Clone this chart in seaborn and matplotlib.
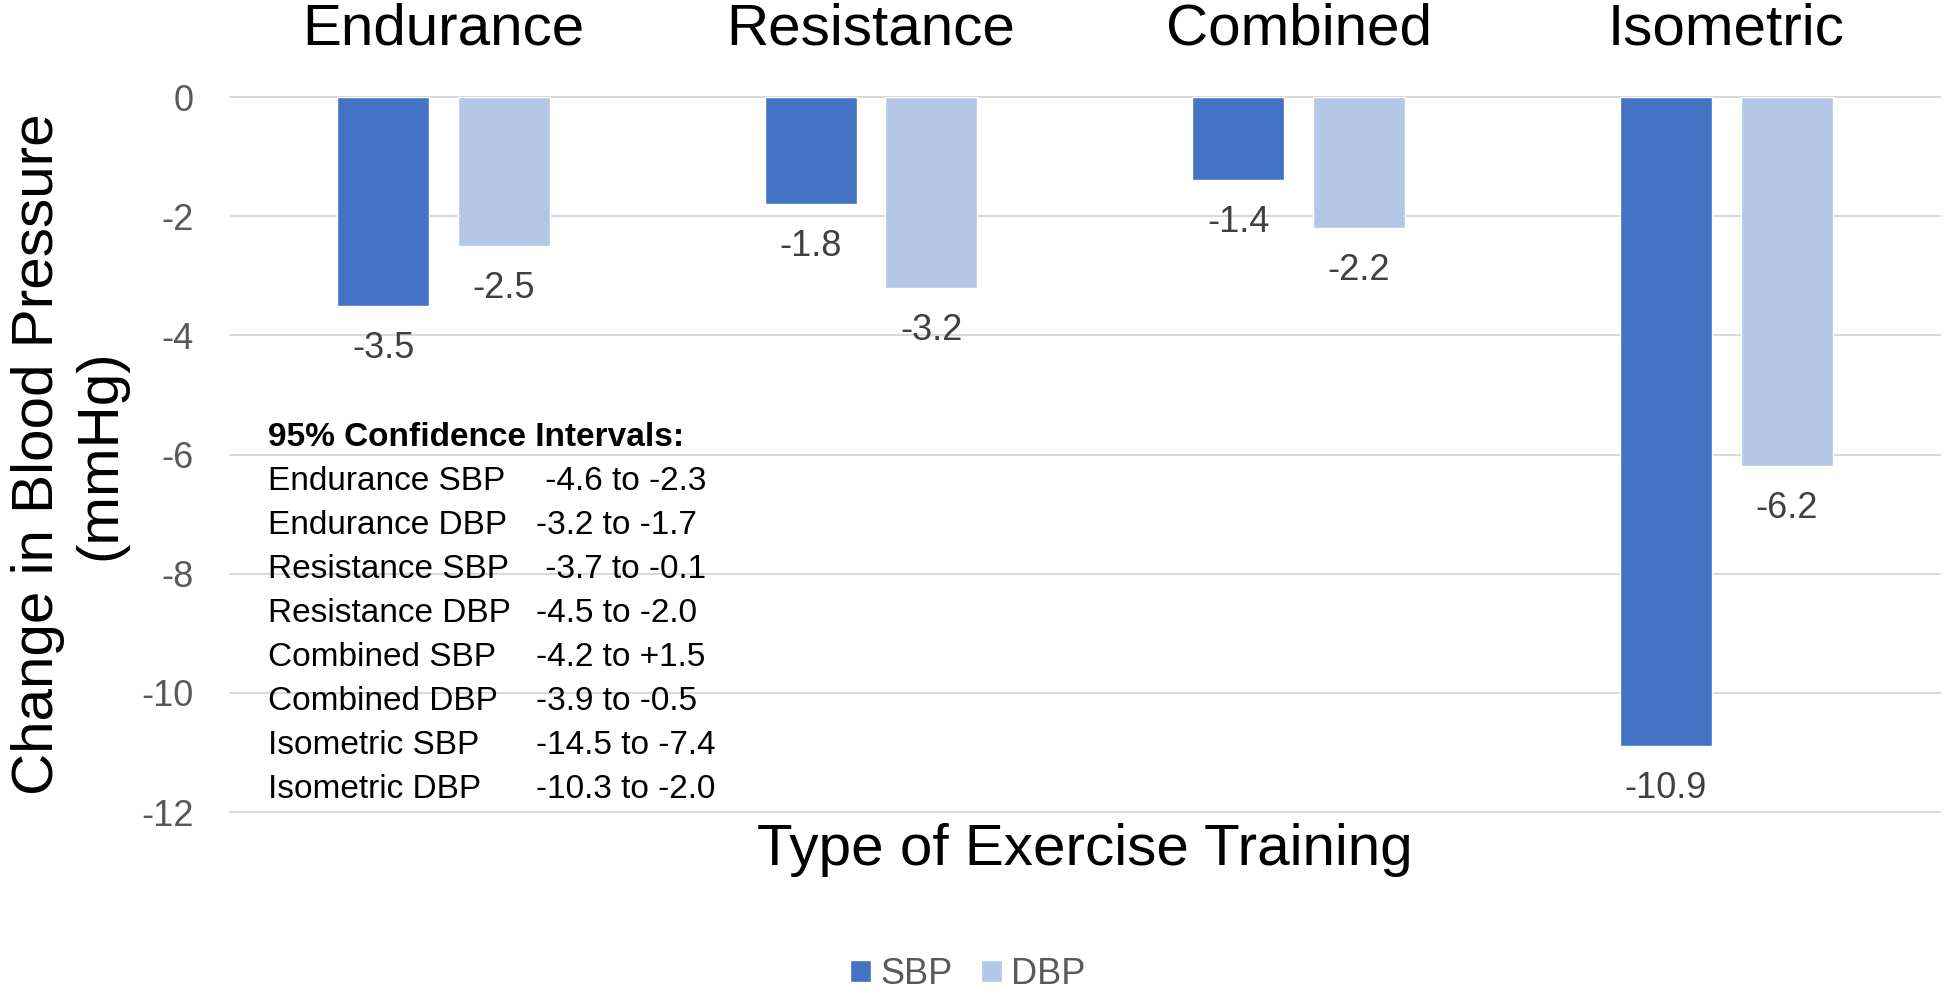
import pandas as pd
import seaborn as sns
import matplotlib.pyplot as plt

training = ["Endurance", "Resistance", "Combined", "Isometric"]
sbp = [-3.5, -1.8, -1.4, -10.9]
dbp = [-2.5, -3.2, -2.2, -6.2]
y_ticks = [0, -2, -4, -6, -8, -10, -12]

ci_title = "95% Confidence Intervals:"
ci_names = ["Endurance SBP", "Endurance DBP", "Resistance SBP", "Resistance DBP",
            "Combined SBP", "Combined DBP", "Isometric SBP", "Isometric DBP"]
ci_ranges = [" -4.6 to -2.3", "-3.2 to -1.7", " -3.7 to -0.1", "-4.5 to -2.0",
             "-4.2 to +1.5", "-3.9 to -0.5", "-14.5 to -7.4", "-10.3 to -2.0"]

sbp_color = "#4472C4"
dbp_color = "#B4C7E7"


def run():
    sns.set_style("white")
    plt.rcParams["font.family"] = ["Liberation Sans", "DejaVu Sans"]
    plt.rcParams["axes.unicode_minus"] = False

    df = pd.DataFrame({
        "training": training * 2,
        "change": sbp + dbp,
        "measure": ["SBP"] * len(sbp) + ["DBP"] * len(dbp),
    })

    fig = plt.figure(figsize=(19.44, 9.91), dpi=100)
    ax = fig.add_axes([0.1181, 0.1806, 0.8799, 0.7215])
    sns.barplot(data=df, x="training", y="change", hue="measure",
                palette=[sbp_color, dbp_color], saturation=1,
                width=0.564, gap=0.236, errorbar=None, ax=ax)

    ax.set_xlim(-0.5, 3.5)
    ax.set_ylim(-12, 0)
    ax.set_yticks(y_ticks)
    ax.yaxis.grid(True, color="#D9D9D9", linewidth=1.5)
    for line in ax.get_ygridlines():
        line.set_clip_on(False)
    ax.set_axisbelow(True)
    for s in ax.spines.values():
        s.set_visible(False)

    # category names sit above the plot
    ax.xaxis.tick_top()
    ax.tick_params(axis="x", length=0, pad=29, labelsize=42, labelcolor="black")
    ax.tick_params(axis="y", length=0, pad=26, labelsize=26, labelcolor="#595959")

    ax.set_xlabel("Type of Exercise Training", fontsize=42, labelpad=8, color="black")
    ax.xaxis.set_label_position("bottom")
    ax.set_ylabel("Change in Blood Pressure\n(mmHg)", fontsize=42, color="black")
    ax.yaxis.set_label_coords(-0.06, 0.5)

    for c in ax.containers:
        ax.bar_label(c, fmt="%.1f", padding=18, fontsize=26, color="#404040")

    # confidence interval notes
    ax.text(-0.41, -5.72, ci_title, fontsize=24, fontweight="bold", va="center",
            color="black")
    for i, (name, rng) in enumerate(zip(ci_names, ci_ranges)):
        y = -6.46 - i * 0.738
        ax.text(-0.41, y, name, fontsize=24, va="center", color="black")
        ax.text(0.2175, y, rng, fontsize=24, va="center", color="black")

    handles, labels = ax.get_legend_handles_labels()
    ax.get_legend().remove()
    fig.legend(handles, labels, loc="center", bbox_to_anchor=(0.498, 0.017), ncol=2,
               frameon=False, fontsize=26, handlelength=0.58, handleheight=0.58,
               handletextpad=0.25, columnspacing=0.8, labelcolor="#595959",
               borderpad=0)

    fig.savefig("out.png", dpi=100)


if __name__ == "__main__":
    run()
